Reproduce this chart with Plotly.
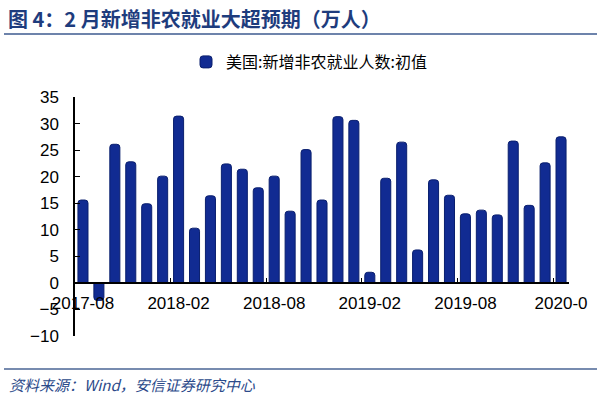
import plotly.graph_objects as go

months = ["2017-08","2017-09","2017-10","2017-11","2017-12",
          "2018-01","2018-02","2018-03","2018-04","2018-05","2018-06",
          "2018-07","2018-08","2018-09","2018-10","2018-11","2018-12",
          "2019-01","2019-02","2019-03","2019-04","2019-05","2019-06",
          "2019-07","2019-08","2019-09","2019-10","2019-11","2019-12",
          "2020-01","2020-02"]
payrolls = [15.6, -3.3, 26.1, 22.8, 14.9,
            20.1, 31.4, 10.3, 16.4, 22.4, 21.4,
            17.9, 20.1, 13.5, 25.1, 15.6, 31.3,
            30.6, 2.0, 19.7, 26.5, 6.2, 19.4,
            16.5, 13.0, 13.7, 12.8, 26.7, 14.6,
            22.6, 27.5]
tick_months = ["2017-08","2018-02","2018-08","2019-02","2019-08","2020-02"]
tick_labels = ["2017-08","2018-02","2018-08","2019-02","2019-08","2020-0"]
series_name = "美国:新增非农就业人数:初值"
title_text = "图 4：2 月新增非农就业大超预期（万人）"
source_text = "资料来源：Wind，安信证券研究中心"

W, H = 600, 395
ML, MR, MT, MB = 75, 31, 97, 59
PW, PH = W - ML - MR, H - MT - MB
YMIN, YMAX = -10, 35

def px(x):
    return (x - ML) / PW

def py(y):
    return (H - MB - y) / PH

FONT = "Liberation Sans, Arial, Noto Sans CJK SC, sans-serif"
CJK = "Noto Sans CJK SC, Liberation Sans, sans-serif"

fig = go.Figure()
fig.add_trace(go.Bar(
    x=months, y=payrolls, name=series_name,
    marker=dict(color="#112b92", line=dict(color="#0a1f6e", width=1), cornerradius=3),
))

fig.update_layout(
    width=W, height=H,
    margin=dict(l=ML, r=MR, t=MT, b=MB, autoexpand=False),
    paper_bgcolor="white", plot_bgcolor="white",
    bargap=0.37,
    font=dict(family=FONT, size=17, color="black"),
    showlegend=True,
    legend=dict(orientation="h", x=px(309), xanchor="center", y=py(62), yanchor="middle",
                font=dict(family=CJK, size=16, color="black"),
                itemwidth=30, bgcolor="rgba(0,0,0,0)"),
    xaxis=dict(type="category", tickmode="array", tickvals=tick_months, ticktext=tick_labels,
               tickson="boundaries", ticks="inside", ticklen=4, tickcolor="black",
               tickangle=0, automargin=False, ticklabelstandoff=5,
               showline=True, linecolor="black", linewidth=1.5, showgrid=False,
               anchor="free", position=(0 - YMIN) / (YMAX - YMIN),
               tickfont=dict(size=17, family=FONT), zeroline=False),
    yaxis=dict(range=[YMIN, YMAX], dtick=5, ticks="inside", ticklen=5, tickcolor="black",
               automargin=False, ticklabelstandoff=11,
               showline=True, linecolor="black", linewidth=1.5, showgrid=False,
               zeroline=False, tickfont=dict(size=17, family=FONT)),
)

# title, rules and source
fig.add_annotation(text="<b>" + title_text + "</b>", xref="paper", yref="paper",
                   x=px(6), y=py(18), xanchor="left", yanchor="middle", showarrow=False,
                   font=dict(family=CJK, size=20, color="#1e3c7d"))
fig.add_shape(type="line", xref="paper", yref="paper", x0=px(4), x1=px(597), y0=py(34), y1=py(34),
              line=dict(color="#3d5a8f", width=1.5))
fig.add_shape(type="line", xref="paper", yref="paper", x0=px(4), x1=px(597), y0=py(369), y1=py(369),
              line=dict(color="#4a6494", width=1.5))
fig.add_annotation(text="<i>" + source_text + "</i>", xref="paper", yref="paper",
                   x=px(7), y=py(384), xanchor="left", yanchor="middle", showarrow=False,
                   font=dict(family=CJK, size=15, color="#2b4a8a"))

fig.write_html("out.html", config={"displayModeBar": False},
               post_script="document.body.style.margin='0';document.body.style.padding='0';")
